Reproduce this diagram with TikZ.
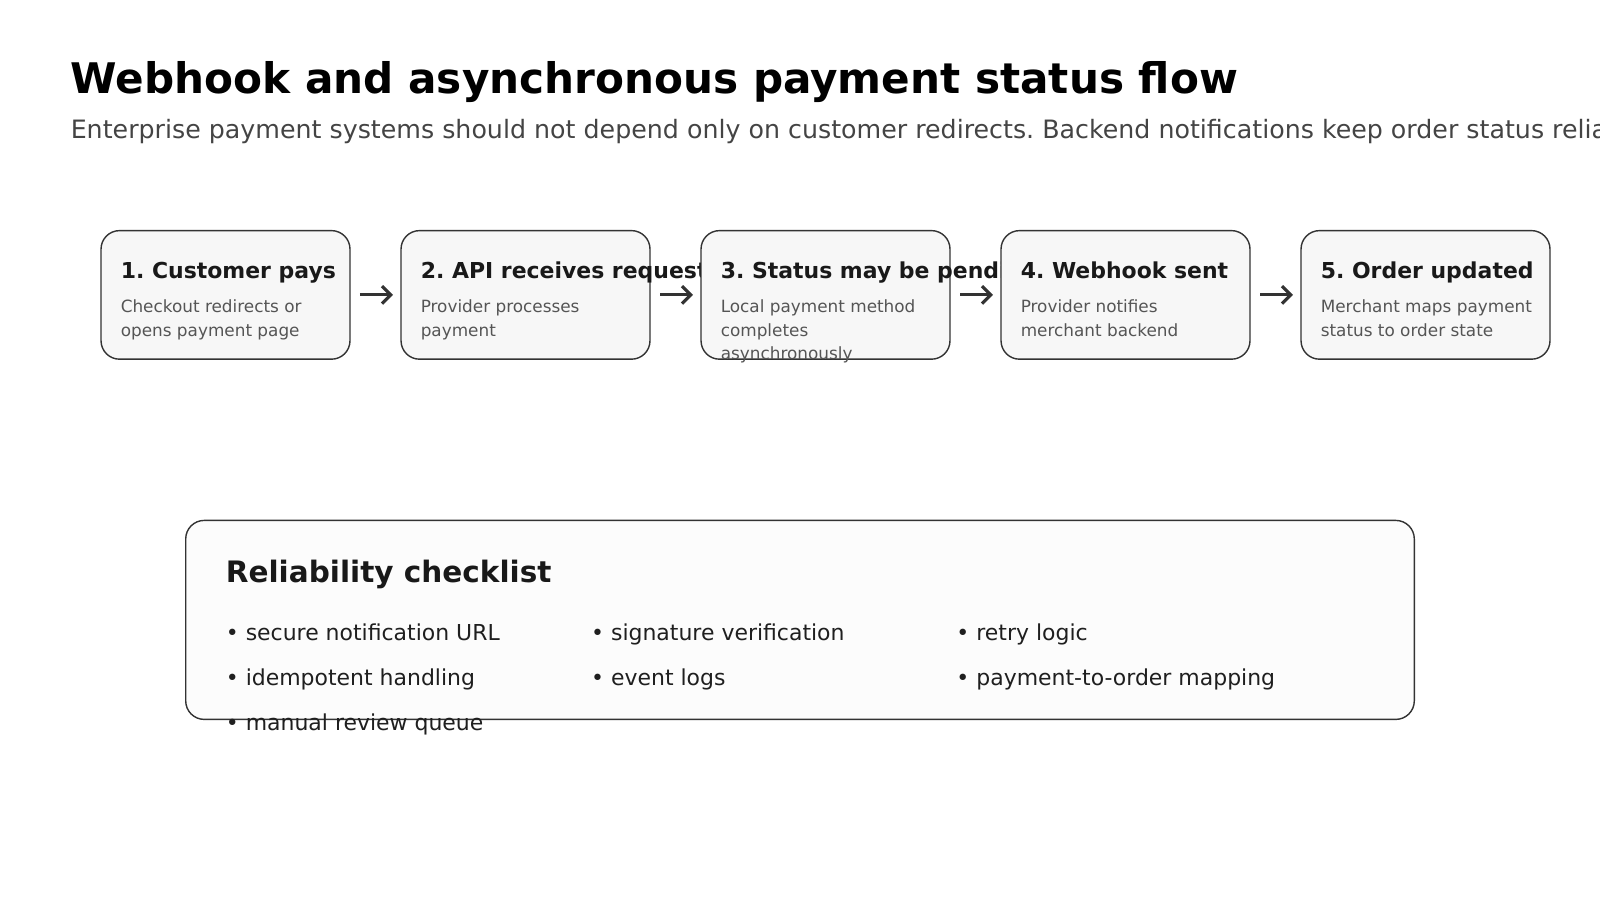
\documentclass[tikz,border=0pt]{standalone}
\usepackage{fontspec}
\setmainfont{DejaVu Sans}
\usetikzlibrary{arrows.meta}
\definecolor{stepfill}{HTML}{F7F7F7}
\definecolor{listfill}{HTML}{FCFCFC}
\definecolor{edge}{HTML}{333333}
\definecolor{desc}{HTML}{555555}
\definecolor{sub}{HTML}{444444}
\frenchspacing
\begin{document}
\begin{tikzpicture}[x=0.02041cm, y=-0.02041cm,
   step_box/.style={draw=edge, fill=stepfill, rounded corners=0.37cm, line width=0.8pt},
   step_title/.style={anchor=base west, inner sep=0pt, font=\fontsize{12.5}{14}\selectfont\bfseries, text=black!90},
   step_desc/.style={anchor=north west, inner sep=0pt, align=left, font=\fontsize{9.6}{13.6}\selectfont, text=desc},
   flow_arrow/.style={draw=edge, line width=1.8pt, -{Straight Barb[length=5pt,width=10pt]}},
   item/.style={anchor=base west, inner sep=0pt, font=\fontsize{12.5}{14}\selectfont, text=black!88}]
	\useasboundingbox (0,0) rectangle (1568,882);
	\node [anchor=base west, inner sep=0pt, font=\fontsize{24}{28}\selectfont\bfseries] (title) at (69,92) {Webhook and asynchronous payment status flow};
	\node [anchor=base west, inner sep=0pt, font=\fontsize{14.4}{17}\selectfont, text=sub] (subtitle) at (69,136) {Enterprise payment systems should not depend only on customer redirects. Backend notifications keep order status reliable.};

	% boxes drawn first, each later box covering text that runs out of the one before
	\path [step_box] (99,226) rectangle (343,352);
	\node [step_title] (t1) at (118,273) {1. Customer pays};
	\node [step_desc] (d1) at (118,293) {Checkout redirects or\\opens payment page};
	\path [step_box] (393,226) rectangle (637,352);
	\node [step_title] (t2) at (412,273) {2. API receives request};
	\node [step_desc] (d2) at (412,293) {Provider processes\\payment};
	\path [step_box] (687,226) rectangle (931,352);
	\node [step_title] (t3) at (706,273) {3. Status may be pending};
	\node [step_desc] (d3) at (706,293) {Local payment method\\completes\\asynchronously};
	\path [step_box] (981,226) rectangle (1225,352);
	\node [step_title] (t4) at (1000,273) {4. Webhook sent};
	\node [step_desc] (d4) at (1000,293) {Provider notifies\\merchant backend};
	\path [step_box] (1275,226) rectangle (1519,352);
	\node [step_title] (t5) at (1294,273) {5. Order updated};
	\node [step_desc] (d5) at (1294,293) {Merchant maps payment\\status to order state};

	\foreach \i in {1,...,5} {
		\coordinate (s\i) at ({99+294*(\i-1)},289);
		\coordinate (e\i) at ({343+294*(\i-1)},289);
	}
	\foreach \a/\b in {1/2, 2/3, 3/4, 4/5}
	  \draw [flow_arrow] ([xshift=0.2cm]e\a) -- ([xshift=-0.16cm]s\b);

	\path [step_box, fill=listfill] (182,510) rectangle (1386,705);
	\node [anchor=base west, inner sep=0pt, font=\fontsize{16.8}{20}\selectfont\bfseries, text=black!90] (head) at (221,571) {Reliability checklist};
	\node [item] (c1) at (221,628) {• secure notification URL};
	\node [item] (c2) at (579,628) {• signature verification};
	\node [item] (c3) at (937,628) {• retry logic};
	\node [item] (c4) at (221,672) {• idempotent handling};
	\node [item] (c5) at (579,672) {• event logs};
	\node [item] (c6) at (937,672) {• payment-to-order mapping};
	\node [item] (c7) at (221,716) {• manual review queue};
\end{tikzpicture}
\end{document}
